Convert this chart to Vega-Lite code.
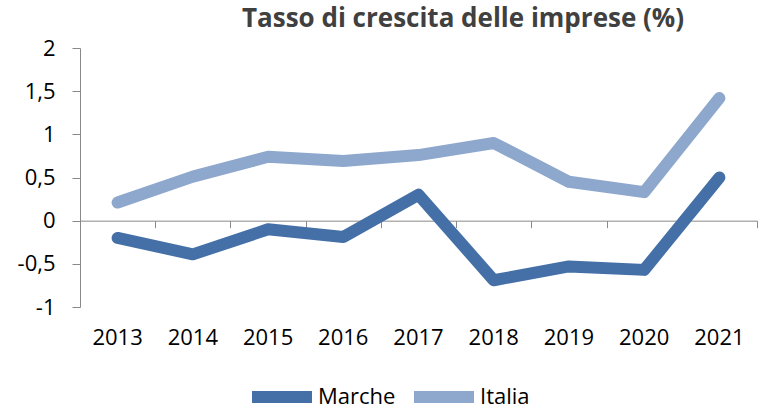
{
  "$schema": "https://vega.github.io/schema/vega-lite/v6.json",
  "width": 677,
  "height": 259,
  "autosize": {"type": "none"},
  "padding": {"left": 80, "top": 48, "right": 5, "bottom": 102},
  "config": {
    "view": {"stroke": null},
    "font": "Open Sans",
    "locale": {"number": {"decimal": ",", "thousands": ".", "grouping": [3], "currency": ["", " €"], "minus": "-"}}
  },
  "title": {
    "text": "Tasso di crescita delle imprese (%)",
    "fontSize": 26,
    "fontWeight": "bold",
    "color": "#404040",
    "anchor": "start",
    "frame": "group",
    "dx": 162,
    "offset": 5
  },
  "data": {
    "values": [
      {"year": "2013", "series": "Marche", "value": -0.2},
      {"year": "2014", "series": "Marche", "value": -0.39},
      {"year": "2015", "series": "Marche", "value": -0.1},
      {"year": "2016", "series": "Marche", "value": -0.19},
      {"year": "2017", "series": "Marche", "value": 0.3},
      {"year": "2018", "series": "Marche", "value": -0.69},
      {"year": "2019", "series": "Marche", "value": -0.53},
      {"year": "2020", "series": "Marche", "value": -0.57},
      {"year": "2021", "series": "Marche", "value": 0.5},
      {"year": "2013", "series": "Italia", "value": 0.21},
      {"year": "2014", "series": "Italia", "value": 0.51},
      {"year": "2015", "series": "Italia", "value": 0.74},
      {"year": "2016", "series": "Italia", "value": 0.69},
      {"year": "2017", "series": "Italia", "value": 0.76},
      {"year": "2018", "series": "Italia", "value": 0.9},
      {"year": "2019", "series": "Italia", "value": 0.45},
      {"year": "2020", "series": "Italia", "value": 0.33},
      {"year": "2021", "series": "Italia", "value": 1.42}
    ]
  },
  "layer": [
    {
      "mark": {"type": "line", "strokeWidth": 12, "strokeCap": "round", "strokeJoin": "round"},
      "encoding": {
        "x": {
          "field": "year", "type": "ordinal",
          "scale": {"type": "band", "paddingInner": 0, "paddingOuter": 0},
          "axis": {
            "orient": "bottom", "title": null, "domain": false, "ticks": false, "grid": false,
            "labelAngle": 0, "labelFontSize": 22, "labelColor": "#000000", "labelPadding": 20, "labelFont": "Open Sans"
          }
        },
        "y": {
          "field": "value", "type": "quantitative",
          "scale": {"domain": [-1, 2], "nice": false, "zero": false},
          "axis": {
            "title": null, "values": [-1, -0.5, 0, 0.5, 1, 1.5, 2], "format": "~g", "grid": false,
            "domainColor": "#898989", "tickColor": "#898989", "tickSize": 8,
            "labelFontSize": 22, "labelColor": "#000000", "labelPadding": 17, "labelFont": "Open Sans"
          }
        },
        "color": {
          "field": "series", "type": "nominal",
          "scale": {"domain": ["Marche", "Italia"], "range": ["#4470A7", "#8EA7CC"]},
          "legend": {
            "title": null, "orient": "none", "direction": "horizontal",
            "legendX": 166, "legendY": 313,
            "symbolType": "stroke", "symbolStrokeWidth": 12, "symbolSize": 3600,
            "labelFontSize": 22, "labelColor": "#000000", "labelOffset": 0, "columnPadding": -6,
            "labelFont": "Open Sans"
          }
        }
      }
    },
    {
      "mark": {"type": "point", "opacity": 0},
      "encoding": {
        "x": {
          "field": "year", "type": "ordinal",
          "axis": {
            "orient": "bottom", "offset": -86.33, "title": null, "labels": false, "grid": false,
            "domain": true, "domainColor": "#898989", "ticks": true, "tickColor": "#898989",
            "tickSize": 7, "tickBand": "extent"
          }
        },
        "y": {"field": "value", "type": "quantitative", "axis": null}
      }
    }
  ],
  "resolve": {"axis": {"x": "independent", "y": "independent"}}
}
